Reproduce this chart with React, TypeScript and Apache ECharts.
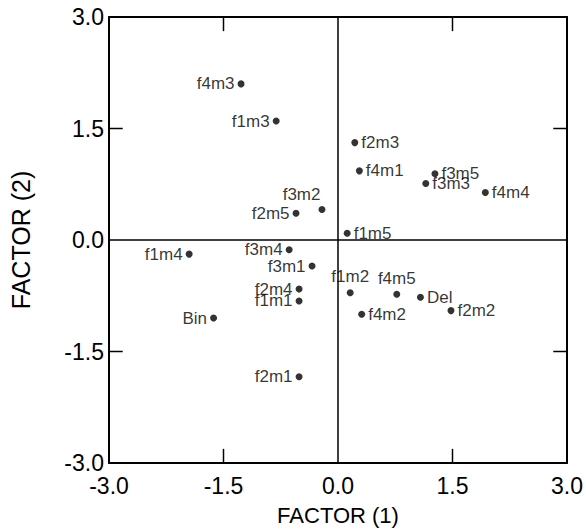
import React, { useEffect, useRef } from "react";
import * as echarts from "echarts";

const names = ["f4m3", "f1m3", "f2m5", "f3m2", "f2m3", "f4m1", "f3m5", "f3m3", "f4m4", "f1m5", "f1m4", "f3m4", "f3m1", "f2m4", "f1m1", "Bin", "f2m1", "f1m2", "f4m5", "Del", "f2m2", "f4m2"];
const factor1 = [-1.27, -0.81, -0.55, -0.21, 0.22, 0.28, 1.27, 1.15, 1.93, 0.12, -1.95, -0.64, -0.34, -0.51, -0.51, -1.63, -0.51, 0.16, 0.77, 1.08, 1.48, 0.31];
const factor2 = [2.10, 1.60, 0.36, 0.41, 1.31, 0.93, 0.89, 0.76, 0.64, 0.09, -0.19, -0.13, -0.35, -0.66, -0.82, -1.05, -1.84, -0.71, -0.73, -0.77, -0.95, -1.00];
const labelSide = ["left", "left", "left", "topleft", "right", "right", "right", "right", "right", "right", "left", "left", "left", "left", "left", "left", "left", "top", "top", "right", "right", "right"];
const tickValues = [-3.0, -1.5, 0.0, 1.5, 3.0];
const innerTicks = [-1.5, 1.5];

const FONT = "Liberation Sans, Arial, Helvetica, sans-serif";
// inner tick length in axis units (about 14px on each axis)
const TICK_X = 0.18;
const TICK_Y = 0.19;

export default function App() {
  const ref = useRef<HTMLDivElement>(null);
  useEffect(() => {
    document.body.style.margin = "0";
    const chart = echarts.init(ref.current!, null, { renderer: "svg" });
    const data = names.map((n, i) => {
      const side = labelSide[i];
      let label: any = { position: side, distance: 3 };
      if (side === "topleft") label = { position: "left", distance: 2, offset: [4, -15] };
      if (side === "top") label = { position: "top", distance: 4 };
      return { name: n, value: [factor1[i], factor2[i]], label };
    });
    const lo = tickValues[0];
    const hi = tickValues[tickValues.length - 1];

    const tickSeries: any[] = [];
    innerTicks.forEach((v) => {
      const segs = [
        [[v, lo], [v, lo + TICK_Y]],
        [[v, hi], [v, hi - TICK_Y]],
        [[lo, v], [lo + TICK_X, v]],
        [[hi, v], [hi - TICK_X, v]],
      ];
      segs.forEach((seg) =>
        tickSeries.push({
          type: "line",
          xAxisIndex: 0,
          yAxisIndex: 0,
          data: seg,
          symbol: "none",
          silent: true,
          clip: false,
          z: 5,
          lineStyle: { color: "#000", width: 1.5 },
          label: { show: false },
        })
      );
    });

    const axisCommon = {
      type: "value",
      min: lo,
      max: hi,
      interval: 1.5,
      splitLine: { show: false },
      axisLine: { show: true, onZero: false, lineStyle: { color: "#000", width: 2 } },
      axisTick: { show: false },
    };
    const labelStyle = {
      color: "#000",
      fontFamily: FONT,
      fontSize: 23,
      formatter: (v: number) => v.toFixed(1),
    };
    chart.setOption({
      animation: false,
      backgroundColor: "#fff",
      grid: { left: 105, right: 19, top: 17, bottom: 69 },
      xAxis: [
        {
          ...axisCommon,
          position: "bottom",
          name: "FACTOR (1)",
          nameLocation: "middle",
          nameGap: 41,
          nameTextStyle: { color: "#000", fontFamily: FONT, fontSize: 22 },
          axisLabel: { ...labelStyle, margin: 11 },
        },
        { ...axisCommon, position: "top", axisLabel: { show: false } },
      ],
      yAxis: [
        {
          ...axisCommon,
          position: "left",
          name: "FACTOR (2)",
          nameLocation: "middle",
          nameGap: 76,
          nameTextStyle: { color: "#000", fontFamily: FONT, fontSize: 25 },
          axisLabel: { ...labelStyle, margin: 5 },
        },
        { ...axisCommon, position: "right", axisLabel: { show: false } },
      ],
      series: [
        ...tickSeries,
        {
          type: "scatter",
          xAxisIndex: 0,
          yAxisIndex: 0,
          symbol: "circle",
          symbolSize: 7,
          itemStyle: { color: "#000" },
          label: {
            show: true,
            formatter: "{b}",
            color: "#000",
            fontFamily: FONT,
            fontSize: 17,
          },
          data,
          markLine: {
            silent: true,
            symbol: "none",
            label: { show: false },
            lineStyle: { color: "#000", width: 1.5, type: "solid" },
            data: [{ xAxis: 0 }, { yAxis: 0 }],
          },
        },
      ],
    });
    return () => chart.dispose();
  }, []);
  return <div ref={ref} style={{ width: 586, height: 532 }} />;
}
